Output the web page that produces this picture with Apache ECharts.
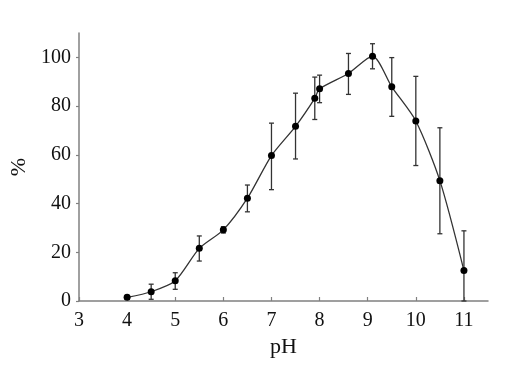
<!DOCTYPE html>
<html><head><meta charset="utf-8">
<script src="https://cdn.jsdelivr.net/npm/echarts@6/dist/echarts.min.js"></script>
<style>html,body{margin:0;padding:0;background:#fff}#c{width:513px;height:368px}</style>
</head><body><div id="c"></div>
<script>
const phValues = [4, 4.5, 5, 5.5, 6, 6.5, 7, 7.5, 7.9, 8, 8.6, 9.1, 9.5, 10, 10.5, 11];
const percentValues = [1.5, 3.8, 8.3, 21.6, 29.2, 42.2, 59.7, 71.7, 83.2, 87.1, 93.4, 100.5, 87.9, 73.9, 49.4, 12.5];
const errLow = [0.8, 3.1, 3.5, 5.2, 1.3, 5.6, 14.0, 13.4, 8.7, 5.7, 8.6, 5.2, 12.1, 18.3, 21.8, 12.5];
const errHigh = [0.8, 3.1, 3.3, 5.1, 1.3, 5.4, 13.3, 13.6, 8.7, 5.6, 8.2, 5.1, 12.0, 18.3, 21.7, 16.3];
const xTicks = [3, 4, 5, 6, 7, 8, 9, 10, 11];
const yTicks = [0, 20, 40, 60, 80, 100];

const lineData = phValues.map((x, i) => [x, percentValues[i]]);
const errData = phValues.map((x, i) => [x, percentValues[i] - errLow[i], percentValues[i] + errHigh[i]]);

const font = 'Liberation Serif, Times New Roman, serif';
const chart = echarts.init(document.getElementById('c'), null, {renderer: 'canvas'});
chart.setOption({
  animation: false,
  backgroundColor: '#fff',
  grid: {left: 79, right: 25, top: 33, bottom: 67},
  xAxis: {
    type: 'value', min: 3, max: 11.5, interval: 1,
    name: 'pH', nameLocation: 'middle', nameGap: 34,
    nameTextStyle: {fontFamily: font, fontSize: 22, color: '#111'},
    axisLine: {show: true, onZero: false, lineStyle: {color: '#808080', width: 1.5}},
    axisTick: {show: true, inside: true, length: 4, customValues: xTicks, lineStyle: {color: '#808080', width: 1.2}},
    axisLabel: {customValues: xTicks, fontFamily: font, fontSize: 20, color: '#111', margin: 10},
    splitLine: {show: false}
  },
  yAxis: {
    type: 'value', min: 0, max: 110, interval: 10,
    name: '%', nameLocation: 'middle', nameGap: 40, nameRotate: 90,
    nameTextStyle: {fontFamily: font, fontSize: 22, color: '#111'},
    axisLine: {show: true, lineStyle: {color: '#808080', width: 1.5}},
    axisTick: {show: true, length: 3, customValues: yTicks, lineStyle: {color: '#808080', width: 1.2}},
    axisLabel: {customValues: yTicks, fontFamily: font, fontSize: 20, color: '#111', margin: 8},
    splitLine: {show: false}
  },
  series: [
    {
      type: 'custom',
      data: errData,
      z: 1,
      renderItem: function (params, api) {
        const x = api.value(0);
        const lo = api.coord([x, api.value(1)]);
        const hi = api.coord([x, api.value(2)]);
        const w = 2.5;
        const style = {stroke: '#333', lineWidth: 1.3};
        return {
          type: 'group',
          children: [
            {type: 'line', shape: {x1: lo[0], y1: lo[1], x2: hi[0], y2: hi[1]}, style: style},
            {type: 'line', shape: {x1: lo[0] - w, y1: lo[1], x2: lo[0] + w, y2: lo[1]}, style: style},
            {type: 'line', shape: {x1: hi[0] - w, y1: hi[1], x2: hi[0] + w, y2: hi[1]}, style: style}
          ]
        };
      }
    },
    {
      type: 'line',
      data: lineData,
      smooth: 0.25,
      symbol: 'circle',
      symbolSize: 7,
      z: 2,
      lineStyle: {color: '#333', width: 1.3},
      itemStyle: {color: '#000'}
    }
  ]
});
</script>
</body></html>
